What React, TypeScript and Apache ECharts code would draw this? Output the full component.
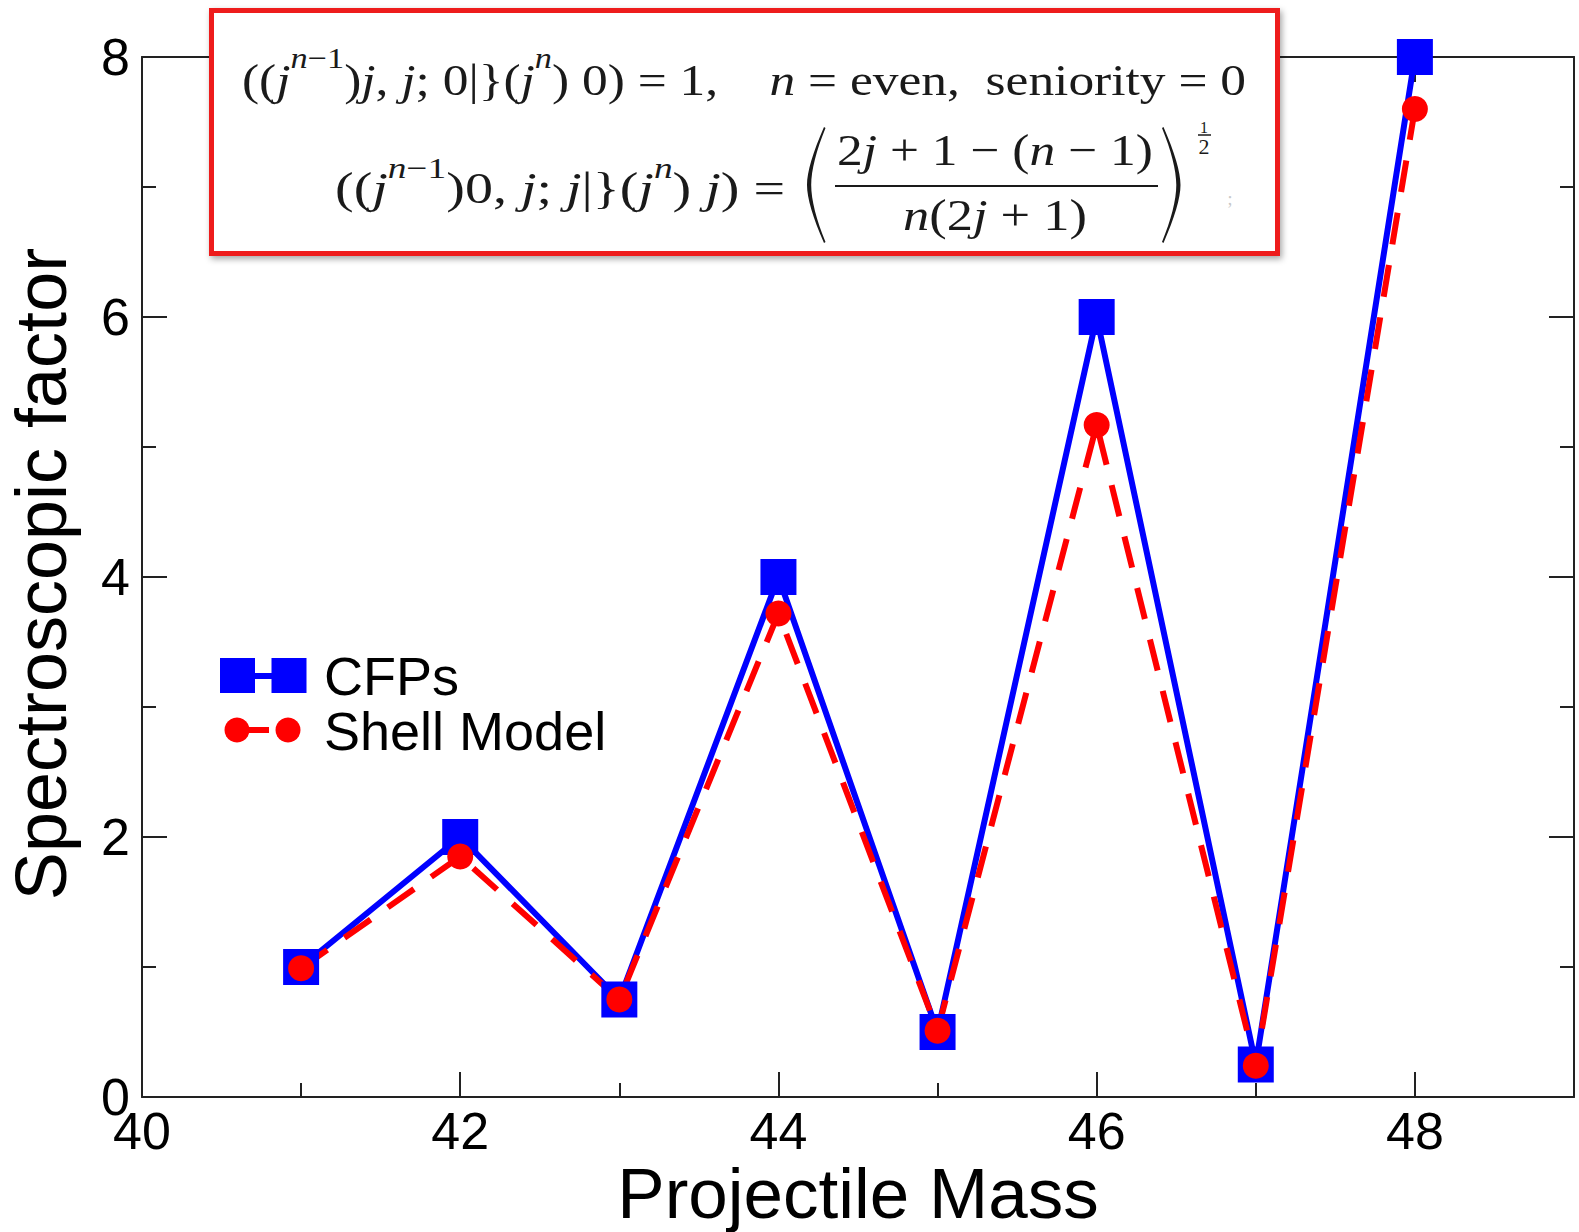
import React, { useEffect, useRef } from "react";
import * as echarts from "echarts";

// ---------- data ----------
const masses = [41, 42, 43, 44, 45, 46, 47, 48];
const cfpValues = [1, 2, 0.75, 4, 0.5, 6, 0.25, 8];
const shellModelValues = [0.99, 1.85, 0.75, 3.72, 0.51, 5.17, 0.24, 7.6];
const seriesNames = ["CFPs", "Shell Model"];
const xAxisName = "Projectile Mass";
const yAxisName = "Spectroscopic factor";

// ---------- style ----------
const SERIF = '"Liberation Serif", "DejaVu Serif", serif';
const SANS = '"Liberation Sans", Arial, sans-serif';
const INK = "#1a1a1a";
const BLUE = "#0000ff";
const RED = "#ff0000";
const AXIS = { color: "#222", width: 2 };
const CENTRAL_SERIF = 0.3375;
const CENTRAL_SANS = 0.3465;

type Tok = { t: string; it?: boolean; sup?: boolean };

function mathRow(
  ctx: CanvasRenderingContext2D,
  tokens: Tok[],
  x0: number,
  x1: number,
  baseline: number,
  size: number,
  supSize: number,
  supRise: number
) {
  let cum = 0;
  const children: any[] = [];
  tokens.forEach((tk) => {
    const fs = tk.sup ? supSize : size;
    const fstyle = tk.it ? "italic" : "normal";
    ctx.font = `${fstyle} ${fs}px ${SERIF}`;
    const w = ctx.measureText(tk.t).width;
    const b = tk.sup ? baseline - supRise : baseline;
    children.push({
      type: "text",
      x: cum,
      y: b - CENTRAL_SERIF * fs,
      z: 101,
      style: {
        text: tk.t,
        fontSize: fs,
        fontFamily: SERIF,
        fontStyle: fstyle,
        fill: INK,
        align: "left",
        verticalAlign: "middle",
      },
    });
    cum += w;
  });
  const s = (x1 - x0) / cum;
  return { type: "group", x: x0, y: 0, scaleX: s, z: 101, children };
}

const line1: Tok[] = [
  { t: "((" },
  { t: "j", it: true },
  { t: "n", it: true, sup: true },
  { t: "−1", sup: true },
  { t: ")" },
  { t: "j", it: true },
  { t: ", " },
  { t: "j", it: true },
  { t: "; 0|}(" },
  { t: "j", it: true },
  { t: "n", it: true, sup: true },
  { t: ") 0) = 1,    " },
  { t: "n", it: true },
  { t: " = even,  seniority = 0" },
];
const line2: Tok[] = [
  { t: "((" },
  { t: "j", it: true },
  { t: "n", it: true, sup: true },
  { t: "−1", sup: true },
  { t: ")0, " },
  { t: "j", it: true },
  { t: "; " },
  { t: "j", it: true },
  { t: "|}(" },
  { t: "j", it: true },
  { t: "n", it: true, sup: true },
  { t: ") " },
  { t: "j", it: true },
  { t: ") =" },
];
const numer: Tok[] = [
  { t: "2" },
  { t: "j", it: true },
  { t: " + 1 − (" },
  { t: "n", it: true },
  { t: " − 1)" },
];
const denom: Tok[] = [
  { t: "n", it: true },
  { t: "(2" },
  { t: "j", it: true },
  { t: " + 1)" },
];

let shapesRegistered = false;
function registerShapes() {
  if (shapesRegistered) return;
  shapesRegistered = true;
  echarts.graphic.registerShape(
    "bigLParen",
    echarts.graphic.extendPath(
      "M17,0 C6,25 0,45 0,58 C0,71 6,91 17,116 L18.5,115 C9.5,93 4.2,73 4.2,58 C4.2,43 9.5,23 18.5,1 Z",
      {}
    )
  );
  echarts.graphic.registerShape(
    "bigRParen",
    echarts.graphic.extendPath(
      "M1.5,0 C12.5,25 18.5,45 18.5,58 C18.5,71 12.5,91 1.5,116 L0,115 C9,93 14.3,73 14.3,58 C14.3,43 9,23 0,1 Z",
      {}
    )
  );
}

function buildGraphic() {
  const canvas = document.createElement("canvas");
  const ctx = canvas.getContext("2d") as CanvasRenderingContext2D;
  const els: any[] = [];
  // formula box
  els.push({
    type: "rect",
    z: 100,
    shape: { x: 211.5, y: 10.5, width: 1066, height: 243 },
    style: {
      fill: "#fff",
      stroke: "#ee1c1c",
      lineWidth: 5,
      shadowBlur: 6,
      shadowOffsetX: 2,
      shadowOffsetY: 3,
      shadowColor: "rgba(0,0,0,0.35)",
    },
  });
  els.push(mathRow(ctx, line1, 242, 1246, 95, 45, 30, 27));
  els.push(mathRow(ctx, line2, 335, 785, 203, 45, 30, 25));
  els.push(mathRow(ctx, numer, 837, 1153, 165, 45, 30, 25));
  els.push(mathRow(ctx, denom, 903, 1087, 230, 45, 30, 25));
  els.push({
    type: "line",
    z: 101,
    shape: { x1: 835, y1: 186, x2: 1158, y2: 186 },
    style: { stroke: INK, lineWidth: 2 },
  });
  els.push({ type: "bigLParen", z: 101, x: 807, y: 127, style: { fill: INK } });
  els.push({ type: "bigRParen", z: 101, x: 1162, y: 127, style: { fill: INK } });
  // exponent 1/2
  els.push({
    type: "text",
    z: 101,
    x: 1204,
    y: 127,
    style: {
      text: "1",
      fontSize: 16,
      lineHeight: 12,
      fontFamily: SERIF,
      fill: INK,
      align: "center",
      verticalAlign: "middle",
    },
  });
  els.push({
    type: "line",
    z: 101,
    shape: { x1: 1198, y1: 135, x2: 1211, y2: 135 },
    style: { stroke: INK, lineWidth: 1.5 },
  });
  els.push({
    type: "text",
    z: 101,
    x: 1204,
    y: 146,
    style: {
      text: "2",
      fontSize: 22,
      lineHeight: 16,
      fontFamily: SERIF,
      fill: INK,
      align: "center",
      verticalAlign: "middle",
    },
  });
  els.push({
    type: "text",
    z: 101,
    x: 1230,
    y: 199,
    style: { text: ";", fontSize: 18, fontFamily: SERIF, fill: "#c8c8c8", align: "center", verticalAlign: "middle" },
  });

  // legend
  els.push({
    type: "line",
    z: 50,
    shape: { x1: 237, y1: 676, x2: 289, y2: 676 },
    style: { stroke: BLUE, lineWidth: 6 },
  });
  [237.5, 289].forEach((cx) =>
    els.push({
      type: "rect",
      z: 51,
      shape: { x: cx - 17.5, y: 658, width: 35, height: 35 },
      style: { fill: BLUE },
    })
  );
  els.push({
    type: "line",
    z: 50,
    shape: { x1: 237, y1: 730, x2: 288, y2: 730 },
    style: { stroke: RED, lineWidth: 6, lineDash: [32, 21] },
  });
  [237, 288].forEach((cx) =>
    els.push({
      type: "circle",
      z: 51,
      shape: { cx, cy: 730, r: 12.5 },
      style: { fill: RED },
    })
  );
  els.push({
    type: "text",
    z: 51,
    x: 324,
    y: 695 - CENTRAL_SANS * 54,
    style: { text: seriesNames[0], fontSize: 54, fontFamily: SANS, fill: "#000", align: "left", verticalAlign: "middle" },
  });
  els.push({
    type: "text",
    z: 51,
    x: 324,
    y: 750 - CENTRAL_SANS * 54,
    style: { text: seriesNames[1], fontSize: 54, fontFamily: SANS, fill: "#000", align: "left", verticalAlign: "middle" },
  });

  // axis names
  els.push({
    type: "text",
    z: 51,
    x: 858,
    y: 1218 - CENTRAL_SANS * 71,
    style: {
      text: xAxisName,
      fontSize: 71,
      lineHeight: 60,
      fontFamily: SANS,
      fill: "#000",
      align: "center",
      verticalAlign: "middle",
    },
  });
  els.push({
    type: "text",
    z: 51,
    x: 66 - CENTRAL_SANS * 72,
    y: 574,
    rotation: Math.PI / 2,
    style: { text: yAxisName, fontSize: 72, fontFamily: SANS, fill: "#000", align: "center", verticalAlign: "middle" },
  });
  return els;
}

export default function App() {
  const ref = useRef<HTMLDivElement>(null);
  useEffect(() => {
    if (!ref.current) return;
    registerShapes();
    const chart = echarts.init(ref.current, null, { renderer: "svg" });
    const xBase = {
      type: "value",
      min: 40,
      max: 49,
      axisLine: { show: true, lineStyle: AXIS },
      splitLine: { show: false },
    };
    const yBase = {
      type: "value",
      min: 0,
      max: 8,
      interval: 2,
      axisLine: { show: true, lineStyle: AXIS },
      splitLine: { show: false },
      axisTick: { show: true, inside: true, length: 25, lineStyle: AXIS },
      minorTick: { show: true, splitNumber: 2, length: 14, lineStyle: AXIS },
    };
    chart.setOption({
      animation: false,
      backgroundColor: "#fff",
      grid: { left: 142, right: 5, top: 57, bottom: 135, containLabel: false },
      xAxis: [
        {
          ...xBase,
          position: "bottom",
          interval: 2,
          axisTick: { show: true, inside: true, length: 25, lineStyle: AXIS },
          axisLabel: {
            show: true,
            fontSize: 52,
            lineHeight: 40,
            fontFamily: SANS,
            color: "#000",
            margin: 14,
            showMaxLabel: false,
            formatter: (v: number) => (v % 2 === 0 ? String(v) : ""),
          },
        },
        {
          ...xBase,
          position: "bottom",
          interval: 1,
          axisLine: { show: false },
          axisTick: { show: true, inside: true, length: 14, lineStyle: AXIS },
          axisLabel: { show: false },
        },
        {
          ...xBase,
          position: "top",
          interval: 2,
          axisTick: { show: true, inside: true, length: 25, lineStyle: AXIS },
          axisLabel: { show: false },
        },
        {
          ...xBase,
          position: "top",
          interval: 1,
          axisLine: { show: false },
          axisTick: { show: true, inside: true, length: 14, lineStyle: AXIS },
          axisLabel: { show: false },
        },
      ],
      yAxis: [
        {
          ...yBase,
          position: "left",
          axisLabel: { show: true, fontSize: 52, lineHeight: 40, fontFamily: SANS, color: "#000", margin: 12 },
        },
        {
          ...yBase,
          position: "right",
          axisLabel: { show: false },
        },
      ],
      series: [
        {
          name: seriesNames[0],
          type: "line",
          xAxisIndex: 0,
          yAxisIndex: 0,
          data: masses.map((m, i) => [m, cfpValues[i]]),
          symbol: "rect",
          symbolSize: 36,
          itemStyle: { color: BLUE },
          lineStyle: { color: BLUE, width: 6 },
          emphasis: { disabled: true },
        },
        {
          name: seriesNames[1],
          type: "line",
          xAxisIndex: 0,
          yAxisIndex: 0,
          data: masses.map((m, i) => [m, shellModelValues[i]]),
          symbol: "circle",
          symbolSize: 26,
          itemStyle: { color: RED },
          lineStyle: { color: RED, width: 6, type: [32, 21] },
          emphasis: { disabled: true },
        },
      ],
      graphic: { elements: buildGraphic() },
    });
    return () => chart.dispose();
  }, []);
  return (
    <div
      ref={ref}
      style={{ position: "fixed", left: 0, top: 0, width: 1579, height: 1232, background: "#fff" }}
    />
  );
}
